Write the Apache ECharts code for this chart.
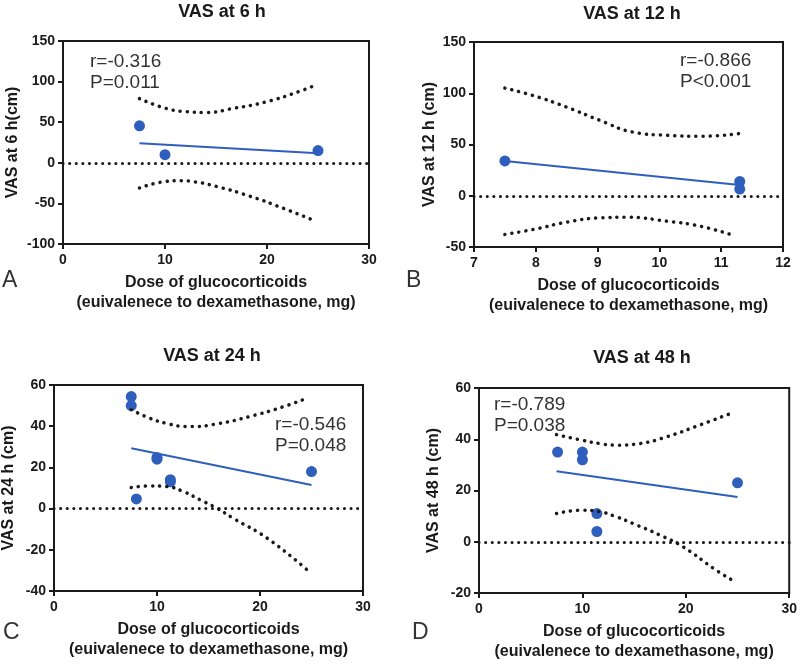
<!DOCTYPE html>
<html>
<head>
<meta charset="utf-8">
<script src="https://cdn.jsdelivr.net/npm/echarts@6/dist/echarts.min.js"></script>
<style>
  html, body { margin: 0; padding: 0; background: #fff; }
  #chart { width: 800px; height: 664px; }
</style>
</head>
<body>
<div id="chart"></div>
<script>
// panel titles / axis names / stats
const titles = ['VAS at 6 h', 'VAS at 12 h', 'VAS at 24 h', 'VAS at 48 h'];
const yNames = ['VAS at 6 h(cm)', 'VAS at 12 h (cm)', 'VAS at 24 h (cm)', 'VAS at 48 h (cm)'];
const stats = [['r=-0.316', 'P=0.011'], ['r=-0.866', 'P<0.001'], ['r=-0.546', 'P=0.048'], ['r=-0.789', 'P=0.038']];
const letters = ['A', 'B', 'C', 'D'];

// A: 6 h
const ptsA = [[7.5, 45.5], [10, 10], [25, 15]];
const fitA = [[7.5, 24.2], [25, 11.9]];
const upA = [[7.5, 79], [10.1, 67], [12.1, 63], [14, 62], [16.7, 67], [19.9, 75], [23.2, 88], [24.8, 96]];
const loA = [[7.5, -31], [10.1, -23], [11.6, -22], [12.7, -23], [15, -29], [18.3, -41], [21.6, -56], [24.6, -71]];

// B: 12 h
const ptsB = [[7.5, 34], [11.3, 14], [11.3, 6.5]];
const fitB = [[7.5, 34], [11.3, 10.6]];
const upB = [[7.5, 105], [7.96, 97.7], [8.5, 86.5], [9.04, 73.5], [9.58, 62], [10.12, 59], [10.66, 58], [11.28, 60.6]];
const loB = [[7.5, -37.7], [7.96, -32.9], [8.5, -25.8], [9.04, -21.6], [9.47, -21], [10.12, -24.8], [10.66, -29.7], [11.2, -38.7]];

// C: 24 h
const ptsC = [[7.5, 54.4], [7.5, 50], [10, 24.8], [10, 24], [11.3, 14], [11.3, 13], [8, 4.7], [25, 18]];
const fitC = [[7.5, 29.3], [25, 11.5]];
const upC = [[7.5, 48], [9.3, 43.9], [10.9, 41.4], [13, 39.8], [15.8, 41.1], [19, 44.7], [22.3, 49.5], [24.7, 53.9]];
const loC = [[7.5, 10.2], [9.3, 11], [10.9, 10.7], [12.55, 8.3], [14.2, 4.2], [15.8, 0.2], [17.4, -4.7], [20.7, -14.4], [24.7, -30.3]];

// D: 48 h
const ptsD = [[7.6, 35], [10, 35], [10, 32], [11.4, 11], [11.4, 4], [25, 23]];
const fitD = [[7.5, 27.5], [25, 17.5]];
const upD = [[7.5, 41.8], [10, 39.6], [11.7, 38.3], [13.3, 37.7], [15.5, 38.3], [18.1, 40.9], [21.3, 45.5], [24.5, 50.3]];
const loD = [[7.5, 11], [10, 12.3], [11.7, 11.7], [13.3, 9.7], [14.9, 7.1], [17.5, 2.6], [19.7, -1.9], [22.9, -11], [24.5, -15]];

const xRange = [[0, 30, 10], [7, 12, 1], [0, 30, 10], [0, 30, 10]];
const yRange = [[-100, 150, 50], [-50, 150, 50], [-40, 60, 20], [-20, 60, 20]];

const pts = [ptsA, ptsB, ptsC, ptsD];
const fits = [fitA, fitB, fitC, fitD];
const ups = [upA, upB, upC, upD];
const los = [loA, loB, loC, loD];

// layout
const grids = [
  { left: 63, top: 41, width: 306, height: 203 },
  { left: 474, top: 42, width: 309, height: 205 },
  { left: 54, top: 385, width: 309, height: 206 },
  { left: 479, top: 388, width: 311, height: 205 }
];
const yNameGap = [42, 36, 37, 37];
const titlePos = [[217, -2], [627, 0], [207, 342], [637, 344]];
const statPos = [[90, 51], [680, 50], [275, 414], [494, 394]];
const letterPos = [[2, 269], [406, 269], [3, 621], [412, 621]];

const font = 'Liberation Sans, Arial, Helvetica, sans-serif';
const dark = '#1a1a1a';
const blue = '#2f5fbd';

let myChart = echarts.init(document.getElementById('chart'));

let xAxis = [], yAxis = [], series = [], title = [], graphic = [];
for (let i = 0; i < 4; i++) {
  title.push({
    text: titles[i], left: titlePos[i][0], top: titlePos[i][1], textAlign: 'center',
    textStyle: { fontFamily: font, fontWeight: 'bold', fontSize: 18, color: dark }
  });
  xAxis.push({
    gridIndex: i, type: 'value', min: xRange[i][0], max: xRange[i][1], interval: xRange[i][2],
    name: 'Dose of glucocorticoids\n(euivalenece to dexamethasone, mg)',
    nameLocation: 'middle', nameGap: 29,
    nameTextStyle: { fontFamily: font, fontWeight: 'bold', fontSize: 16, color: dark, lineHeight: 20 },
    axisLine: { onZero: false, lineStyle: { color: dark, width: 2 } },
    axisTick: { inside: false, length: 5, lineStyle: { color: dark, width: 2 } },
    axisLabel: { fontFamily: font, fontWeight: 'bold', fontSize: 14, color: dark, margin: 9 },
    splitLine: { show: false }
  });
  yAxis.push({
    gridIndex: i, type: 'value', min: yRange[i][0], max: yRange[i][1], interval: yRange[i][2],
    name: yNames[i], nameLocation: 'middle', nameGap: yNameGap[i],
    nameTextStyle: { fontFamily: font, fontWeight: 'bold', fontSize: 16, color: dark },
    axisLine: { onZero: false, lineStyle: { color: dark, width: 2 } },
    axisTick: { inside: false, length: 5, lineStyle: { color: dark, width: 2 } },
    axisLabel: { fontFamily: font, fontWeight: 'bold', fontSize: 14, color: dark, margin: 8 },
    splitLine: { show: false }
  });
  const dotted = { color: dark, width: 3.5, type: [0.1, 7], cap: 'round' };
  series.push({
    type: 'line', xAxisIndex: i, yAxisIndex: i, data: ups[i], smooth: true, symbol: 'none',
    lineStyle: dotted, silent: true,
    markLine: {
      silent: true, symbol: 'none', label: { show: false },
      lineStyle: { color: dark, width: 3, type: [0.1, 6.5], cap: 'round' },
      data: [{ yAxis: 0 }]
    }
  });
  series.push({
    type: 'line', xAxisIndex: i, yAxisIndex: i, data: los[i], smooth: true, symbol: 'none',
    lineStyle: dotted, silent: true
  });
  series.push({
    type: 'line', xAxisIndex: i, yAxisIndex: i, data: fits[i], symbol: 'none',
    lineStyle: { color: blue, width: 2 }
  });
  series.push({
    type: 'scatter', xAxisIndex: i, yAxisIndex: i, data: pts[i], symbolSize: 11,
    itemStyle: { color: blue, opacity: 1 }
  });
  graphic.push({
    type: 'text', left: statPos[i][0], top: statPos[i][1],
    style: { text: stats[i].join('\n'), font: '19px ' + font, fill: '#333', lineHeight: 21 }
  });
  graphic.push({
    type: 'text', left: letterPos[i][0], top: letterPos[i][1],
    style: { text: letters[i], font: '23px ' + font, fill: '#333' }
  });
}

let option = {
  animation: false,
  title: title,
  grid: grids.map(g => Object.assign({ show: true, borderColor: dark, borderWidth: 2, backgroundColor: 'transparent' }, g)),
  xAxis: xAxis,
  yAxis: yAxis,
  series: series,
  graphic: graphic
};
myChart.setOption(option);
</script>
</body>
</html>
